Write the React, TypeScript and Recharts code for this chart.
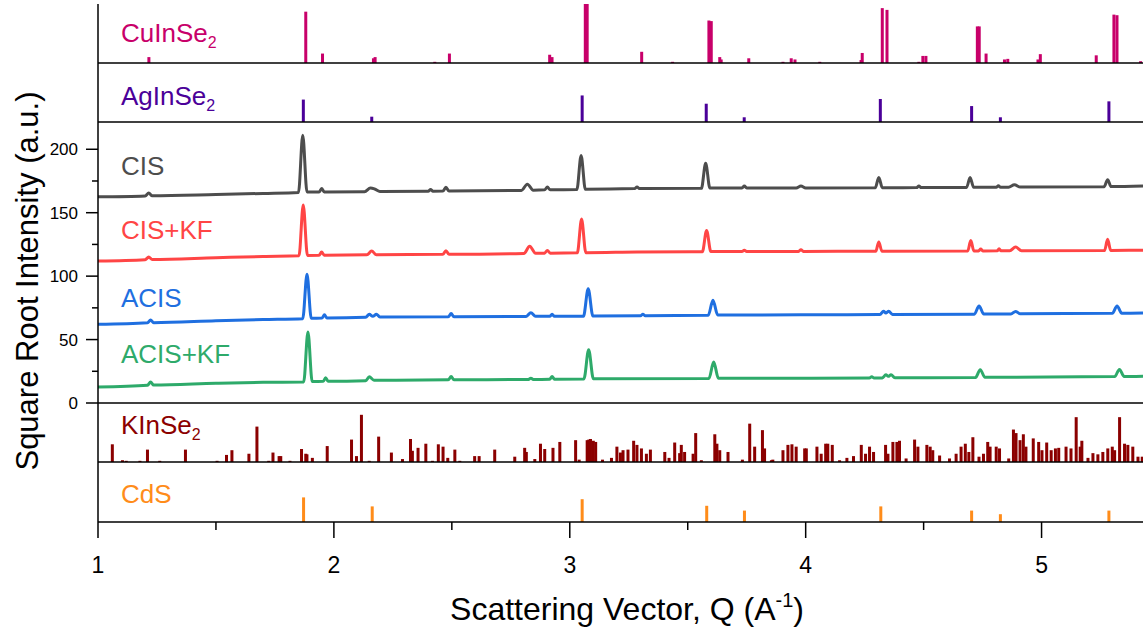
import React from "react";
import { ComposedChart, Line, Bar, XAxis, YAxis } from "recharts";

type Pt = [number, number];

// axis ticks
const qTicks = [1, 1.5, 2, 2.5, 3, 3.5, 4, 4.5, 5];
const intensityTicks = [0, 25, 50, 75, 100, 125, 150, 175, 200];

// measured patterns (Q, sqrt intensity)
const cis: Pt[] = [
  [1.0, 162.5], [1.2, 163.2], [1.215, 165.5], [1.23, 163.3], [1.5, 164.3], [1.7, 165.2], [1.85, 166],
  [1.868, 211], [1.886, 166.3], [1.937, 166.3], [1.948, 169], [1.959, 166.4], [2.13, 166.6], [2.155, 169.5],
  [2.175, 168.5], [2.195, 166.8], [2.4, 167], [2.41, 168.2], [2.42, 167], [2.462, 167.1], [2.475, 170],
  [2.488, 167.1], [2.795, 167.6], [2.82, 172.5], [2.845, 167.8], [2.893, 168], [2.905, 170.2], [2.917, 168],
  [3.03, 168.2], [3.048, 195], [3.066, 168.4], [3.275, 169], [3.285, 170.3], [3.295, 169], [3.558, 169.2],
  [3.576, 189], [3.594, 169.4], [3.73, 169.5], [3.74, 171], [3.75, 169.5], [3.96, 169.5], [3.98, 171],
  [4.0, 169.5], [4.295, 169.6], [4.31, 177.7], [4.325, 169.7], [4.47, 169.8], [4.48, 171], [4.49, 169.8],
  [4.682, 169.9], [4.697, 177.7], [4.712, 170], [4.808, 170], [4.817, 171.2], [4.826, 170], [4.86, 170.1],
  [4.885, 172], [4.91, 170.2], [5.265, 170.5], [5.28, 176], [5.295, 170.6], [5.43, 171],
];

const cisKf: Pt[] = [
  [1.0, 112], [1.2, 113], [1.215, 115], [1.23, 113.1], [1.5, 114.5], [1.7, 115.5], [1.852, 116],
  [1.87, 156], [1.888, 116.3], [1.937, 116.4], [1.948, 119], [1.959, 116.5], [2.14, 116.8], [2.16, 119.8],
  [2.18, 116.9], [2.462, 117.2], [2.475, 120], [2.488, 117.2], [2.805, 117.8], [2.83, 123.5], [2.855, 118],
  [2.893, 118.1], [2.905, 120.3], [2.917, 118.1], [3.032, 118.4], [3.05, 145], [3.068, 118.5], [3.285, 119],
  [3.562, 119.2], [3.58, 136], [3.598, 119.4], [3.73, 119.4], [3.74, 120.5], [3.75, 119.4], [3.97, 119.5],
  [3.98, 120.8], [3.99, 119.5], [4.297, 119.6], [4.31, 127], [4.323, 119.7], [4.687, 119.8], [4.7, 128],
  [4.713, 119.9], [4.733, 119.9], [4.742, 121.3], [4.751, 119.9], [4.812, 120], [4.82, 121.5], [4.828, 120],
  [4.865, 120], [4.89, 123], [4.915, 120.1], [5.267, 120.2], [5.28, 129], [5.293, 120.3], [5.43, 120.4],
];

const acis: Pt[] = [
  [1.0, 62], [1.21, 63.2], [1.223, 65.5], [1.236, 63.3], [1.5, 64.8], [1.7, 65.8], [1.868, 66.5],
  [1.886, 101.5], [1.904, 66.8], [1.95, 67], [1.96, 69.5], [1.97, 67.1], [2.135, 67.6], [2.15, 70],
  [2.165, 68.3], [2.18, 70], [2.195, 67.8], [2.485, 68], [2.497, 70.5], [2.509, 68], [2.815, 68.2],
  [2.835, 71.2], [2.855, 68.3], [2.915, 68.3], [2.925, 70], [2.935, 68.3], [3.058, 68.4], [3.078, 90],
  [3.098, 68.6], [3.3, 68.8], [3.31, 70], [3.32, 68.8], [3.587, 69.1], [3.607, 81], [3.627, 69.3],
  [3.98, 69.5], [4.315, 69.7], [4.33, 72.3], [4.34, 71], [4.352, 72.3], [4.368, 69.8], [4.715, 70],
  [4.735, 76.5], [4.755, 70.1], [4.87, 70.2], [4.89, 72.2], [4.91, 70.3], [5.3, 70.7], [5.32, 76.5],
  [5.34, 70.8], [5.43, 71],
];

const acisKf: Pt[] = [
  [1.0, 12.6], [1.21, 14], [1.223, 16.5], [1.236, 14.1], [1.5, 15.5], [1.7, 16.3], [1.872, 16.6],
  [1.89, 56], [1.908, 16.9], [1.955, 17.1], [1.965, 20], [1.975, 17.2], [2.135, 17.6], [2.15, 20.6],
  [2.17, 18], [2.485, 18.3], [2.497, 20.8], [2.509, 18.3], [2.825, 18.6], [2.835, 19.6], [2.845, 18.6],
  [2.915, 18.8], [2.925, 20.8], [2.935, 18.8], [3.06, 19], [3.08, 42], [3.1, 19.1], [3.59, 19.4],
  [3.61, 32.3], [3.63, 19.5], [4.0, 19.6], [4.27, 19.7], [4.28, 20.7], [4.29, 19.7], [4.325, 19.8],
  [4.34, 22.3], [4.35, 21], [4.362, 22.3], [4.378, 19.9], [4.72, 20.1], [4.74, 26.3], [4.76, 20.2],
  [5.31, 20.8], [5.33, 26.5], [5.35, 20.9], [5.43, 21],
];

// reference stick patterns (Q, relative intensity %)
const cuInSe2: Pt[] = [
  [1.216, 10], [1.881, 87], [1.952, 16], [2.168, 8], [2.175, 10], [2.428, 2], [2.49, 16], [2.915, 14],
  [2.925, 10], [3.066, 100], [3.074, 100], [3.305, 19], [3.436, 2], [3.59, 72], [3.6, 71], [3.636, 10],
  [3.642, 6], [3.759, 8], [3.904, 2], [3.939, 8], [3.955, 6], [4.06, 2], [4.235, 5], [4.24, 17],
  [4.325, 93], [4.345, 90], [4.48, 2], [4.497, 12], [4.51, 12], [4.728, 62], [4.736, 62], [4.765, 16],
  [4.843, 6], [4.857, 7], [4.985, 6], [4.995, 15], [5.232, 13], [5.307, 82], [5.32, 81], [5.42, 3],
];

const agInSe2: Pt[] = [
  [1.87, 38], [2.16, 9], [3.052, 45], [3.578, 31], [3.739, 8], [4.316, 39], [4.703, 27], [4.825, 8], [5.285, 35],
];

const kInSe2: Pt[] = [
  [1.061, 30], [1.104, 3], [1.12, 2], [1.178, 2], [1.21, 21], [1.262, 2], [1.371, 21], [1.505, 2],
  [1.545, 12], [1.568, 20], [1.64, 14], [1.674, 60], [1.724, 2], [1.742, 16], [1.768, 10], [1.775, 10],
  [1.814, 2], [1.863, 22], [1.881, 14], [1.886, 13], [1.909, 7], [1.972, 27], [2.075, 38], [2.096, 10],
  [2.117, 80], [2.15, 2], [2.19, 43], [2.244, 16], [2.291, 5], [2.325, 39], [2.333, 19], [2.357, 24],
  [2.39, 31], [2.418, 2], [2.443, 30], [2.463, 26], [2.483, 7], [2.513, 21], [2.534, 2], [2.597, 10],
  [2.616, 10], [2.682, 21], [2.767, 9], [2.809, 24], [2.816, 17], [2.852, 5], [2.876, 31], [2.894, 22],
  [2.929, 24], [2.958, 34], [3.025, 37], [3.04, 4], [3.074, 37], [3.081, 38], [3.088, 39], [3.1, 36],
  [3.11, 34], [3.139, 4], [3.177, 7], [3.2, 26], [3.215, 16], [3.226, 20], [3.247, 21], [3.271, 36],
  [3.285, 29], [3.304, 23], [3.325, 14], [3.342, 21], [3.403, 17], [3.421, 7], [3.445, 33], [3.466, 15],
  [3.473, 29], [3.487, 17], [3.523, 14], [3.534, 49], [3.558, 3], [3.615, 47], [3.624, 31], [3.636, 20],
  [3.671, 17], [3.732, 4], [3.763, 65], [3.784, 26], [3.817, 54], [3.826, 23], [3.855, 3], [3.861, 4],
  [3.904, 20], [3.925, 29], [3.942, 30], [3.96, 26], [3.996, 23], [4.003, 23], [4.048, 26], [4.066, 14],
  [4.085, 31], [4.094, 31], [4.113, 29], [4.144, 3], [4.175, 7], [4.203, 10], [4.236, 29], [4.254, 14],
  [4.271, 26], [4.288, 17], [4.339, 29], [4.349, 14], [4.37, 34], [4.387, 34], [4.398, 36], [4.426, 6],
  [4.462, 38], [4.476, 26], [4.514, 29], [4.528, 26], [4.539, 20], [4.568, 11], [4.61, 6], [4.638, 14],
  [4.659, 26], [4.677, 31], [4.692, 17], [4.709, 42], [4.735, 9], [4.754, 14], [4.772, 34], [4.782, 26],
  [4.808, 26], [4.822, 23], [4.861, 6], [4.881, 55], [4.892, 49], [4.909, 37], [4.923, 47], [4.934, 26],
  [4.965, 40], [4.988, 34], [5.002, 20], [5.022, 33], [5.041, 20], [5.059, 23], [5.073, 24], [5.104, 26],
  [5.125, 23], [5.147, 76], [5.164, 26], [5.171, 36], [5.197, 7], [5.218, 15], [5.239, 13], [5.26, 17],
  [5.281, 23], [5.3, 26], [5.31, 20], [5.331, 76], [5.352, 31], [5.366, 29], [5.387, 26], [5.409, 9],
  [5.427, 9],
];

const cdS: Pt[] = [
  [1.871, 41], [2.162, 26], [3.052, 38], [3.58, 27], [3.74, 19], [4.318, 26], [4.703, 19], [4.825, 13], [5.285, 19],
];

const W = 1143;
const LEFT = 98;
const Q_DOMAIN: [number, number] = [1, 5.43];
const FONT = '"Liberation Sans", Arial, Helvetica, sans-serif';
const AXIS = { stroke: "#000", strokeWidth: 1.5 };
const NOMARGIN = { top: 0, right: 0, bottom: 0, left: 0 };

const rows = (pts: Pt[]) => pts.map(([q, v]) => ({ q, v }));

// bars get squeezed where sticks are dense, so draw a fixed 3px stick at the bar centre
// eslint-disable-next-line @typescript-eslint/no-explicit-any
const Stick = ({ x, y, width, height, fill }: any) => {
  if (!height || height <= 0) return null;
  return <rect x={x + width / 2 - 1.5} y={y} width={3} height={height} fill={fill} />;
};

// eslint-disable-next-line @typescript-eslint/no-explicit-any
const QTick = ({ x, y, payload }: any) => {
  const major = Number.isInteger(payload.value);
  return (
    <g>
      <line x1={x} x2={x} y1={y} y2={y + (major ? 16 : 8)} stroke="#000" strokeWidth={1.5} />
      {major && (
        <text x={x} y={y + 51} textAnchor="middle" fontSize={23} fontFamily={FONT} fill="#000">
          {payload.value}
        </text>
      )}
    </g>
  );
};

// eslint-disable-next-line @typescript-eslint/no-explicit-any
const ITick = ({ x, y, payload }: any) => {
  const major = payload.value % 50 === 0;
  return (
    <g>
      <line x1={x - (major ? 12 : 6)} x2={x} y1={y} y2={y} stroke="#000" strokeWidth={1.5} />
      {major && (
        <text x={x - 20} y={y + 6} textAnchor="end" fontSize={17} fontFamily={FONT} fill="#000">
          {payload.value}
        </text>
      )}
    </g>
  );
};

const Name = ({ y, color, main, sub }: { y: number; color: string; main: string; sub?: string }) => (
  <text x={121} y={y} fill={color} fontSize={26} fontFamily={FONT}>
    {main}
    {sub && (
      <tspan fontSize={16} dy={6}>
        {sub}
      </tspan>
    )}
  </text>
);

function StickPanel(props: {
  top: number;
  height: number;
  sticks: Pt[];
  color: string;
  name: string;
  labelY: number;
  frameTop?: boolean;
  bottomAxis?: boolean;
}) {
  const { top, height, sticks, color, name, labelY, frameTop, bottomAxis } = props;
  const axisH = bottomAxis ? 110 : 1;
  return (
    <div style={{ position: "absolute", left: 0, top }}>
      <ComposedChart
        width={W}
        height={height}
        data={rows(sticks)}
        margin={{ ...NOMARGIN, top: frameTop ? 4 : 0 }}
      >
        {frameTop && (
          <XAxis
            xAxisId="frame"
            orientation="top"
            type="number"
            dataKey="q"
            domain={Q_DOMAIN}
            allowDataOverflow
            height={0}
            tick={false}
            tickLine={false}
            axisLine={AXIS}
          />
        )}
        <YAxis
          type="number"
          domain={[0, 100]}
          allowDataOverflow
          width={LEFT}
          tick={false}
          tickLine={false}
          axisLine={AXIS}
        />
        <Bar dataKey="v" fill={color} barSize={3} shape={<Stick />} isAnimationActive={false} />
        <XAxis
          type="number"
          dataKey="q"
          domain={Q_DOMAIN}
          allowDataOverflow
          ticks={qTicks}
          interval={0}
          height={axisH}
          tickSize={0}
          tickMargin={0}
          tickLine={false}
          tick={bottomAxis ? <QTick /> : false}
          axisLine={AXIS}
        />
        <Name y={labelY} color={color} main={name.replace("2", "")} sub={name.endsWith("2") ? "2" : undefined} />
      </ComposedChart>
    </div>
  );
}

const samples = [
  { key: "CIS", data: cis, color: "#4d4d4d", labelY: 53 },
  { key: "CIS+KF", data: cisKf, color: "#ff4545", labelY: 117 },
  { key: "ACIS", data: acis, color: "#1f6fe0", labelY: 185 },
  { key: "ACIS+KF", data: acisKf, color: "#2eaa6a", labelY: 241 },
];

export default function App() {
  return (
    <div style={{ position: "absolute", left: 0, top: 0, width: W, height: 632, background: "#fff", fontFamily: FONT }}>
      <StickPanel top={0} height={64} sticks={cuInSe2} color="#c8006a" name="CuInSe2" labelY={41.5} frameTop />
      <StickPanel top={63} height={60} sticks={agInSe2} color="#4b0099" name="AgInSe2" labelY={42} />

      <StickPanel top={403} height={60} sticks={kInSe2} color="#8b0000" name="KInSe2" labelY={30.5} />
      <StickPanel top={462} height={170} sticks={cdS} color="#ff8c1a" name="CdS" labelY={41} bottomAxis />

      {/* main panel: svg runs 11px below the frame so the "0" label is not cut */}
      <div style={{ position: "absolute", left: 0, top: 122 }}>
        <ComposedChart width={W} height={292} margin={NOMARGIN}>
          <YAxis
            type="number"
            domain={[0, 221.5]}
            allowDataOverflow
            ticks={intensityTicks}
            interval={0}
            width={LEFT}
            tickSize={0}
            tickMargin={0}
            tickLine={false}
            tick={<ITick />}
            axisLine={AXIS}
          />
          {samples.map((s) => (
            <Line
              key={s.key}
              data={rows(s.data)}
              dataKey="v"
              type="monotone"
              stroke={s.color}
              strokeWidth={3}
              strokeLinejoin="round"
              dot={false}
              isAnimationActive={false}
            />
          ))}
          <XAxis
            type="number"
            dataKey="q"
            domain={Q_DOMAIN}
            allowDataOverflow
            ticks={qTicks}
            height={11}
            tick={false}
            tickLine={false}
            axisLine={AXIS}
          />
          {samples.map((s) => (
            <Name key={s.key} y={s.labelY} color={s.color} main={s.key} />
          ))}
        </ComposedChart>
      </div>

      <svg width={W} height={632} style={{ position: "absolute", left: 0, top: 0, pointerEvents: "none" }}>
        <text
          x={38}
          y={281}
          transform="rotate(-90 38 281)"
          textAnchor="middle"
          fontSize={31}
          fontFamily={FONT}
          fill="#000"
        >
          Square Root Intensity (a.u.)
        </text>
        <text x={627} y={620} textAnchor="middle" fontSize={32} fontFamily={FONT} fill="#000">
          Scattering Vector, Q (A
          <tspan fontSize={20} dy={-13}>
            -1
          </tspan>
          <tspan dy={13}>)</tspan>
        </text>
      </svg>
    </div>
  );
}
